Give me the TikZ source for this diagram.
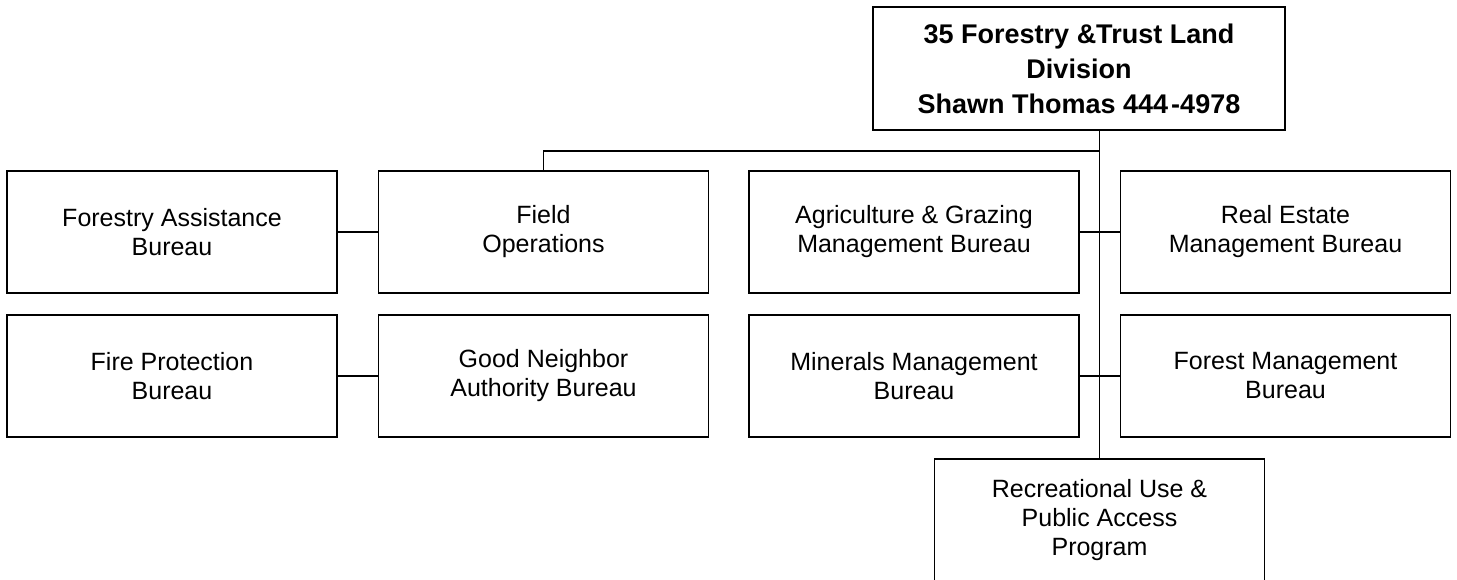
\documentclass[tikz,border=0pt]{standalone}
\usepackage{fontspec}
\setmainfont{Liberation Sans}
\begin{document}
\begin{tikzpicture}[x=1pt,y=-1pt,
  unitbox/.style={draw=black, line width=1.2pt, fill=white, inner sep=0pt,
    minimum width=330pt, minimum height=122pt, align=center,
    font=\fontsize{25}{29}\selectfont},
  headbox/.style={draw=black, line width=1.2pt, fill=white, inner sep=0pt,
    minimum width=412pt, minimum height=123pt, align=center,
    font=\fontsize{27}{35}\selectfont\bfseries},
  link/.style={draw=black, line width=1.2pt},
]
\useasboundingbox (0,0) rectangle (1457,579);

% division head
\node[headbox] (div) at (1079,68.5)
  {35 Forestry \&Trust Land\\Division\\Shawn Thomas 444\hspace{3pt}-4978};

% first row
\node[unitbox] (fab) at (172,232) {Forestry Assistance\\Bureau};
\node[unitbox] (fo)  at (543.5,232) {Field\\Operations};
\node[unitbox] (agm) at (914,232) {Agriculture \& Grazing\\Management Bureau};
\node[unitbox] (rem) at (1285.5,232) {Real Estate\\Management Bureau};

% second row
\node[unitbox] (fpb) at (172,376) {Fire Protection\\Bureau};
\node[unitbox] (gna) at (543.5,376) {Good Neighbor\\Authority Bureau};
\node[unitbox] (mmb) at (914,376) {Minerals Management\\Bureau};
\node[unitbox] (fmb) at (1285.5,376) {Forest Management\\Bureau};

% program box below
\node[unitbox] (rup) at (1099.5,520) {Recreational Use \&\\Public Access\\Program};

% connectors
\coordinate (trunk) at (div.south -| rup.north);
\coordinate (bend) at (1099.5,151);
\draw[link] (trunk) -- (rup.north);
\draw[link] (bend) -| (fo.north);
\draw[link] (fab.east) -- (fo.west);
\draw[link] (fpb.east) -- (gna.west);
\draw[link] (agm.east) -- (rem.west);
\draw[link] (mmb.east) -- (fmb.west);
\end{tikzpicture}
\end{document}
